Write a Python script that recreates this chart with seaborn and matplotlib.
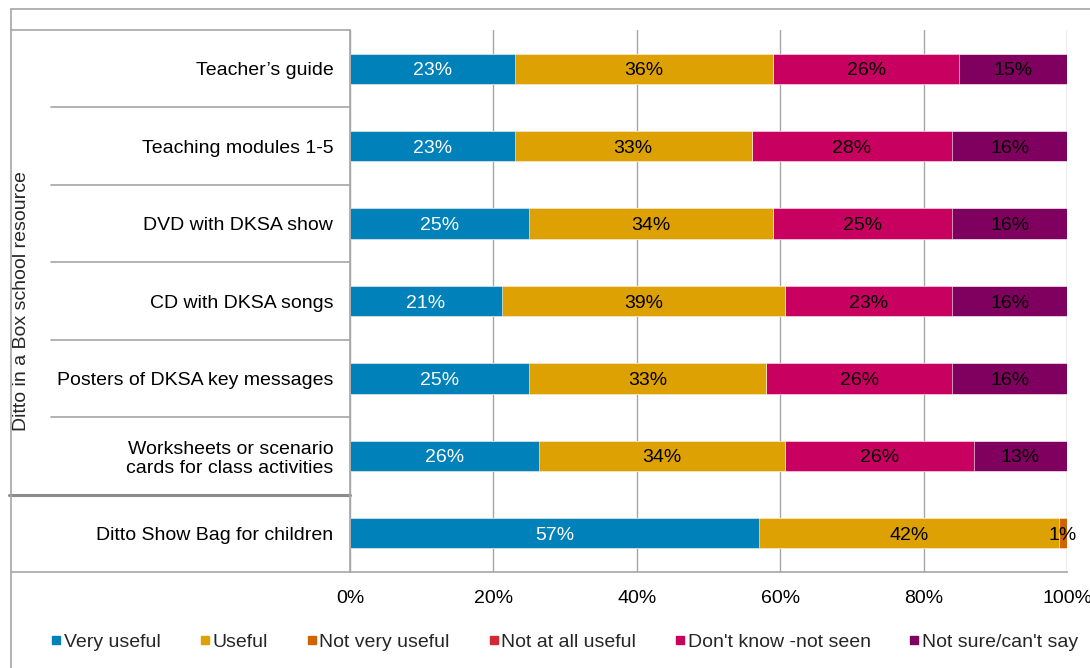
import matplotlib
matplotlib.use("Agg")
import matplotlib.pyplot as plt
import matplotlib.transforms as mtransforms
from matplotlib.lines import Line2D
import seaborn as sns
import pandas as pd
import numpy as np

categories = ["Teacher\u2019s guide", "Teaching modules 1-5", "DVD with DKSA show",
              "CD with DKSA songs", "Posters of DKSA key messages",
              "Worksheets or scenario\ncards for class activities",
              "Ditto Show Bag for children"]
series = ["Very useful", "Useful", "Not very useful", "Not at all useful",
          "Don't know -not seen", "Not sure/can't say"]
very_useful = [23, 23, 25, 21.2, 25, 26.3, 57.0]
useful = [36, 33, 34, 39.4, 33, 34.4, 41.9]
not_very_useful = [0, 0, 0, 0, 0, 0, 1.1]
not_at_all_useful = [0, 0, 0, 0, 0, 0, 0]
dont_know = [26, 28, 25, 23.4, 26, 26.3, 0]
not_sure = [15, 16, 16, 16.0, 16, 13.0, 0]
group_label = "Ditto in a Box school resource"
xtick_labels = ["0%", "20%", "40%", "60%", "80%", "100%"]

colors = ["#0081BA", "#DEA103", "#D06400", "#D12A2F", "#C8005F", "#80005F"]
text_colors = ["white", "black", "black", "black", "black", "black"]

values = [very_useful, useful, not_very_useful, not_at_all_useful, dont_know, not_sure]
df = pd.DataFrame({s: v for s, v in zip(series, values)}, index=categories)
cum = df.cumsum(axis=1)

sns.set_style("white")
plt.rcParams["font.family"] = ["Liberation Sans", "DejaVu Sans"]

W, H = 1090, 668
fig = plt.figure(figsize=(W / 100, H / 100), dpi=100)
ax = fig.add_axes([350 / W, (H - 572) / H, (1067 - 350) / W, (572 - 30) / H])

for i in range(len(series) - 1, -1, -1):
    s = series[i]
    d = pd.DataFrame({"cat": categories, "x": cum[s].values})
    sns.barplot(data=d, x="x", y="cat", color=colors[i], width=0.39,
                orient="h", ax=ax, saturation=1, edgecolor="white", linewidth=0.4)

# labels
for i, s in enumerate(series):
    for j, c in enumerate(categories):
        v = df.loc[c, s]
        if v > 0:
            ax.text(cum.loc[c, s] - v / 2, j, f"{round(v):d}%", ha="center", va="center_baseline",
                    fontsize=14, color=text_colors[i])

ax.set_xlim(0, 100)
ax.set_ylim(6.5, -0.5)
ax.set_xticks([0, 20, 40, 60, 80, 100])
ax.set_xticklabels(xtick_labels, fontsize=14)
ax.set_xlabel("")
ax.set_ylabel("")
ax.xaxis.grid(True, color="#A6A6A6", linewidth=1)
ax.yaxis.grid(False)
ax.set_axisbelow(True)
for sp in ["top", "right"]:
    ax.spines[sp].set_visible(False)
ax.spines["left"].set_color("#A6A6A6")
ax.spines["bottom"].set_color("#A6A6A6")
ax.spines["left"].set_linewidth(1.2)
ax.spines["bottom"].set_linewidth(1.2)
ax.tick_params(axis="x", length=4, width=1, color="#A6A6A6", direction="out", pad=9, labelcolor="black")
ax.tick_params(axis="y", length=0, pad=12, labelsize=14, labelcolor="black")
ax.set_yticks(range(len(categories)))
ax.set_yticklabels(categories, fontsize=14, linespacing=1.15)

# category table lines
tr = mtransforms.blended_transform_factory(ax.transAxes, ax.transData)
axw = 1067 - 350
xl_outer = (11 - 350) / axw
xl_inner = (51 - 350) / axw
for yv in [0.5, 1.5, 2.5, 3.5, 4.5]:
    ax.add_line(Line2D([xl_inner, 0], [yv, yv], transform=tr, color="#A6A6A6", lw=1.2, clip_on=False))
ax.add_line(Line2D([xl_outer, 0], [-0.5, -0.5], transform=tr, color="#A6A6A6", lw=1.2, clip_on=False))
ax.add_line(Line2D([xl_outer, 0], [6.5, 6.5], transform=tr, color="#A6A6A6", lw=1.2, clip_on=False))
ax.add_line(Line2D([xl_outer - 0.003, 0], [5.5, 5.5], transform=tr, color="#8C8C8C", lw=2.2, clip_on=False))

# outer frame lines
fig.add_artist(Line2D([11 / W, 11 / W], [0, (H - 9) / H], color="#A6A6A6", lw=1.2))
fig.add_artist(Line2D([11 / W, 1], [(H - 9) / H, (H - 9) / H], color="#A6A6A6", lw=1.2))

# group label
fig.text(22 / W, (H - 301) / H, group_label, rotation=90, ha="center", va="center", fontsize=14)

# legend
handles = [Line2D([], [], marker="s", linestyle="none", markersize=6, color=c) for c in colors]
fig.legend(handles, series, loc="center", bbox_to_anchor=(565 / W, 26 / H), ncol=6,
           frameon=False, fontsize=14, handlelength=0.5, handletextpad=0.15,
           columnspacing=2.0, borderaxespad=0)

fig.savefig("out.png", dpi=100)
